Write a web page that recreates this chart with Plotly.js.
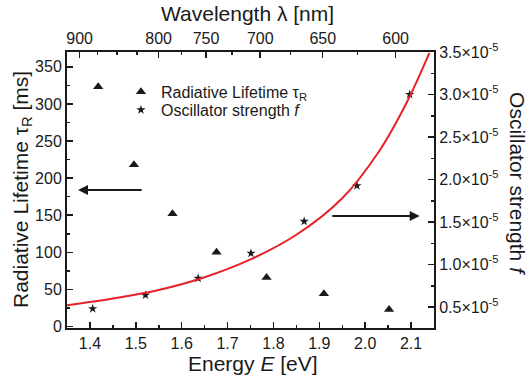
<!DOCTYPE html>
<html>
<head>
<meta charset="utf-8">
<script src="https://cdn.plot.ly/plotly-3.0.1.min.js"></script>
<style>html,body{margin:0;padding:0;background:#fff;}#chart{width:528px;height:379px;}</style>
</head>
<body>
<div id="chart"></div>
<script>
// Data
const energyTau = [1.418, 1.496, 1.58, 1.676, 1.785, 1.910, 2.052];
const tauR = [323, 218, 152, 100, 66, 44, 23];
const energyF = [1.406, 1.521, 1.636, 1.751, 1.867, 1.982, 2.097];
const oscF = [0.48e-5, 0.64e-5, 0.838e-5, 1.132e-5, 1.508e-5, 1.927e-5, 3.0e-5];
const fitE = [1.35, 1.45, 1.55, 1.65, 1.75, 1.85, 1.95, 2.03, 2.09, 2.14];
const fitF = [0.52e-5, 0.60e-5, 0.70e-5, 0.85e-5, 1.06e-5, 1.35e-5, 1.78e-5, 2.33e-5, 2.90e-5, 3.49e-5];
const wlMajor = [900, 800, 750, 700, 650, 600];
const wlMinor = [875, 850, 825, 775, 725, 675, 625];
const fTicks = [0.5e-5, 1.0e-5, 1.5e-5, 2.0e-5, 2.5e-5, 3.0e-5, 3.5e-5];
const fTickText = ['0.5', '1.0', '1.5', '2.0', '2.5', '3.0', '3.5'].map(s => s + '×10<sup>-5</sup>');
const fMinor = [0.25e-5, 0.75e-5, 1.25e-5, 1.75e-5, 2.25e-5, 2.75e-5, 3.25e-5];

const HC = 1239.84; // eV*nm
const toE = l => HC / l;

const FONT = 'Liberation Sans, Arial, Helvetica, sans-serif';
const INK = '#1a1a1a';
const xRange = [1.35, 2.15];

const traces = [
  {x: energyTau, y: tauR, type: 'scatter', mode: 'markers', name: 'Radiative Lifetime τ<sub>R</sub>',
   marker: {symbol: 'triangle-up', size: 9, color: INK}, xaxis: 'x', yaxis: 'y', legend: 'legend'},
  {x: energyF, y: oscF, type: 'scatter', mode: 'markers', name: 'Oscillator strength <i>f</i>',
   marker: {symbol: 'star', size: 7, color: INK}, xaxis: 'x', yaxis: 'y2', legend: 'legend2'},
  {x: fitE, y: fitF, type: 'scatter', mode: 'lines', line: {color: '#e8202a', width: 2, shape: 'spline'},
   showlegend: false, xaxis: 'x', yaxis: 'y2', hoverinfo: 'skip'},
  {x: energyF, y: oscF, type: 'scatter', mode: 'markers', marker: {opacity: 0}, showlegend: false,
   xaxis: 'x2', yaxis: 'y2', hoverinfo: 'skip'}
];

const axCommon = {
  showline: true, linecolor: INK, linewidth: 2, showgrid: false, zeroline: false,
  ticks: 'inside', ticklen: 6, tickwidth: 1.5, tickcolor: INK,
  tickfont: {family: FONT, size: 16, color: INK}
};
const legCommon = {xanchor: 'left', yanchor: 'middle', bgcolor: 'rgba(0,0,0,0)',
                   font: {family: FONT, size: 16, color: INK}};

const layout = {
  width: 528, height: 379,
  margin: {l: 67, r: 94, t: 52, b: 51},
  paper_bgcolor: '#fff', plot_bgcolor: '#fff',
  font: {family: FONT, color: INK},
  showlegend: true,
  legend: Object.assign({x: 0.147, y: 0.856}, legCommon),
  legend2: Object.assign({x: 0.147, y: 0.790}, legCommon),
  xaxis: Object.assign({}, axCommon, {range: xRange, dtick: 0.1, tick0: 0, tickformat: '.1f',
           minor: {dtick: 0.05, tick0: 0, ticks: 'inside', ticklen: 3, tickwidth: 1.5, tickcolor: INK}}),
  xaxis2: Object.assign({}, axCommon, {range: xRange, overlaying: 'x', side: 'top', anchor: 'y',
           tickmode: 'array', tickvals: wlMajor.map(toE), ticktext: wlMajor.map(String),
           minor: {tickmode: 'array', tickvals: wlMinor.map(toE), ticks: 'inside', ticklen: 3, tickwidth: 1.5, tickcolor: INK}}),
  yaxis: Object.assign({}, axCommon, {range: [-2, 370], dtick: 50, tick0: 0,
           minor: {dtick: 25, tick0: 0, ticks: 'inside', ticklen: 3, tickwidth: 1.5, tickcolor: INK}}),
  yaxis2: Object.assign({}, axCommon, {range: [0.253e-5, 3.5e-5], overlaying: 'y', side: 'right', anchor: 'x',
           tickmode: 'array', tickvals: fTicks, ticktext: fTickText,
           minor: {tickmode: 'array', tickvals: fMinor, ticks: 'inside', ticklen: 3, tickwidth: 1.5, tickcolor: INK}}),
  annotations: [
    {text: 'Wavelength λ [nm]', xref: 'paper', yref: 'paper', x: 0.492, y: 1.141, xanchor: 'center', yanchor: 'middle',
     showarrow: false, font: {family: FONT, size: 21, color: INK}},
    {text: 'Energy <i>E</i> [eV]', xref: 'paper', yref: 'paper', x: 0.507, y: -0.127, xanchor: 'center', yanchor: 'middle',
     showarrow: false, font: {family: FONT, size: 21, color: INK}},
    {text: 'Radiative Lifetime τ<sub>R</sub> [ms]', xref: 'paper', yref: 'paper', x: -0.1226, y: 0.5,
     xanchor: 'center', yanchor: 'middle', textangle: -90, showarrow: false, font: {family: FONT, size: 21, color: INK}},
    {text: 'Oscillator strength <i>f</i>', xref: 'paper', yref: 'paper', x: 1.229, y: 0.525,
     xanchor: 'center', yanchor: 'middle', textangle: 90, showarrow: false, font: {family: FONT, size: 21, color: INK}},
    {x: 1.374, y: 184, ax: 1.516, ay: 184, xref: 'x', yref: 'y', axref: 'x', ayref: 'y', text: '',
     showarrow: true, arrowhead: 2, arrowsize: 1, arrowwidth: 2, arrowcolor: INK},
    {x: 2.119, y: 149, ax: 1.925, ay: 149, xref: 'x', yref: 'y', axref: 'x', ayref: 'y', text: '',
     showarrow: true, arrowhead: 2, arrowsize: 1, arrowwidth: 2, arrowcolor: INK}
  ]
};

Plotly.newPlot('chart', traces, layout, {displayModeBar: false, staticPlot: true});
</script>
</body>
</html>
